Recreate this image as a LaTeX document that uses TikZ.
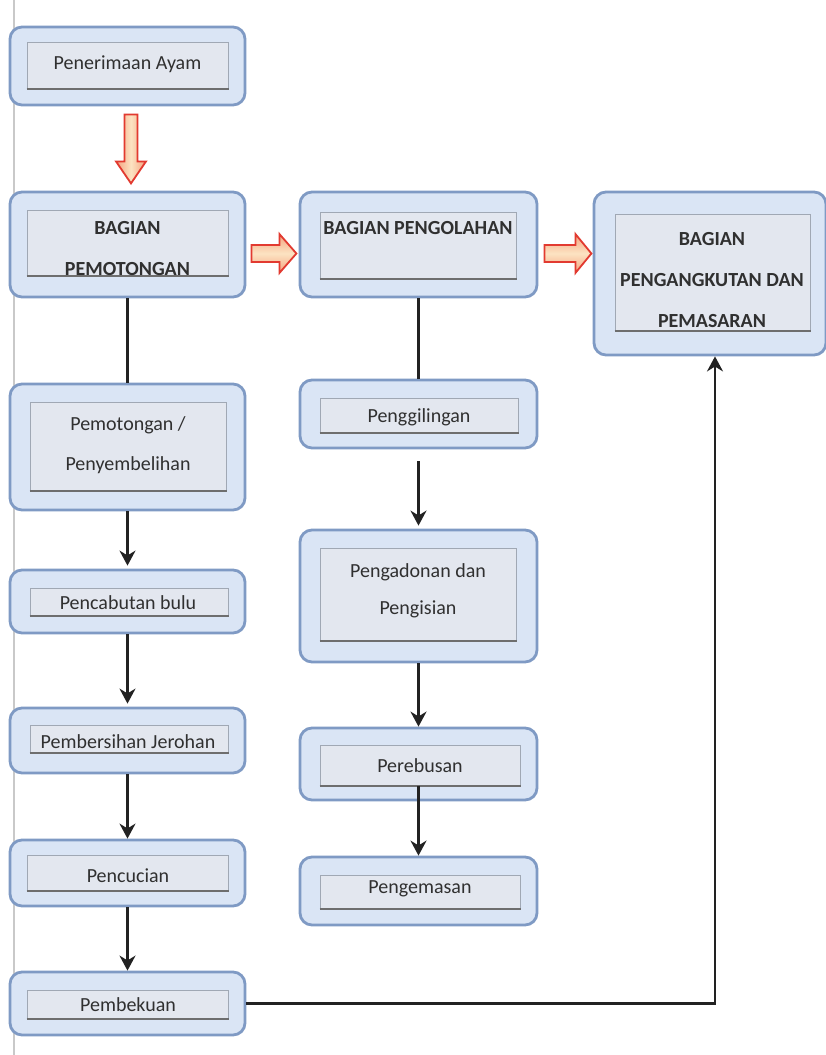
\documentclass[tikz,border=0pt]{standalone}
\usepackage{fontspec}
\setmainfont{Carlito}
\usetikzlibrary{arrows.meta,calc}
\definecolor{ofill}{HTML}{DAE5F5}
\definecolor{obord}{HTML}{7F9AC4}
\definecolor{ifill}{HTML}{E3E7EF}
\definecolor{ibord}{HTML}{A0A8B4}
\definecolor{ibot}{HTML}{6E6E6E}
\definecolor{tcol}{HTML}{303030}
\definecolor{acol}{HTML}{222222}
\definecolor{redc}{HTML}{E23A30}
\definecolor{redl}{HTML}{FCE3C2}
\definecolor{redm}{HTML}{F4A27E}
\definecolor{lline}{HTML}{C9C9C9}
\begin{document}
\begin{tikzpicture}[x=1pt,y=-1pt,
  outer/.style={draw=obord, line width=2.8pt, rounded corners=12pt, fill=ofill, inner sep=0pt},
  inner/.style={draw=ibord, line width=1pt, fill=ifill, inner sep=0pt,
    append after command={(\tikzlastnode.south west) edge[draw=ibot, line width=2pt] (\tikzlastnode.south east)}},
  lbl/.style={text=tcol, font=\fontsize{20}{40}\selectfont, align=center, inner sep=0pt},
  blbl/.style={text=tcol, font=\bfseries\fontsize{20}{41}\selectfont, align=center, inner sep=0pt},
  flow/.style={draw=acol, line width=2.8pt, -{Stealth[length=15pt,width=16pt]}},
  link/.style={draw=acol, line width=2.8pt},
  vblock/.style={draw=redc, line width=1.8pt, line join=miter, left color=redm, right color=redm, middle color=redl},
  hblock/.style={draw=redc, line width=1.8pt, line join=miter, top color=redm, bottom color=redm, middle color=redl}
]
\useasboundingbox (0,0) rectangle (826,1055);
\fill[white] (0,0) rectangle (826,1055);
\coordinate (ltop) at (14,0);
\coordinate (lbot) at (14,1055);
\draw[lline, line width=1.5pt] (ltop) -- (lbot);

% left column
\node[outer, minimum width=235pt, minimum height=78pt] (rec) at (127.5,66) {};
\node[inner, minimum width=201pt, minimum height=46pt] (rec-i) at (127.5,65) {};
\node[lbl] (rec-t) at (127.5,64) {Penerimaan Ayam};

\node[outer, minimum width=235pt, minimum height=105pt] (pot) at (127.5,244.5) {};
\node[inner, minimum width=201pt, minimum height=65pt] (pot-i) at (127.5,242.5) {};
\node[blbl] (pot-t) at (127.5,249) {BAGIAN\\PEMOTONGAN};

\node[outer, minimum width=235pt, minimum height=126pt] (sem) at (127.5,447) {};
\node[inner, minimum width=196pt, minimum height=88pt] (sem-i) at (128,446) {};
\node[lbl] (sem-t) at (128,445) {Pemotongan /\\Penyembelihan};

\node[outer, minimum width=235pt, minimum height=63pt] (cab) at (127.5,601.5) {};
\node[inner, minimum width=198pt, minimum height=27pt] (cab-i) at (129,601.5) {};
\node[lbl] (cab-t) at (128,603) {Pencabutan bulu};

\node[outer, minimum width=235pt, minimum height=65pt] (ber) at (127.5,740.5) {};
\node[inner, minimum width=198pt, minimum height=27pt] (ber-i) at (129,738.5) {};
\node[lbl] (ber-t) at (128,742) {Pembersihan Jerohan};

\node[outer, minimum width=235pt, minimum height=66pt] (cuc) at (127.5,873) {};
\node[inner, minimum width=201pt, minimum height=35pt] (cuc-i) at (127.5,872.5) {};
\node[lbl] (cuc-t) at (128,876) {Pencucian};

\node[outer, minimum width=235pt, minimum height=63pt] (bek) at (127.5,1003.5) {};
\node[inner, minimum width=201pt, minimum height=28pt] (bek-i) at (127.5,1004) {};
\node[lbl] (bek-t) at (128,1005) {Pembekuan};

% middle column
\node[outer, minimum width=237pt, minimum height=105pt] (olah) at (418.5,244.5) {};
\node[inner, minimum width=196pt, minimum height=66pt] (olah-i) at (418,245) {};
\node[blbl] (olah-t) at (418,228) {BAGIAN PENGOLAHAN};

\node[outer, minimum width=237pt, minimum height=68pt] (gil) at (418.5,414) {};
\node[inner, minimum width=198pt, minimum height=34pt] (gil-i) at (419,415) {};
\node[lbl] (gil-t) at (419,417) {Penggilingan};

\node[outer, minimum width=237pt, minimum height=132pt] (adon) at (418.5,596) {};
\node[inner, minimum width=196pt, minimum height=92pt] (adon-i) at (418,594) {};
\node[lbl, font=\fontsize{20}{37}\selectfont] (adon-t) at (418,591) {Pengadonan dan\\Pengisian};

\node[outer, minimum width=237pt, minimum height=72pt] (rebus) at (418.5,764) {};
\node[inner, minimum width=200pt, minimum height=40pt] (rebus-i) at (420,765) {};
\node[lbl] (rebus-t) at (420,766) {Perebusan};

\node[outer, minimum width=237pt, minimum height=68pt] (kemas) at (418.5,891) {};
\node[inner, minimum width=200pt, minimum height=33pt] (kemas-i) at (420,891.5) {};
\node[lbl] (kemas-t) at (420,889) {Pengemasan};

% right column
\node[outer, minimum width=232pt, minimum height=163pt] (pas) at (710,273.5) {};
\node[inner, minimum width=195pt, minimum height=116pt] (pas-i) at (712.5,272) {};
\node[blbl] (pas-t) at (712,280) {BAGIAN\\PENGANGKUTAN DAN\\PEMASARAN};

% red block arrows
\coordinate (dA) at ($(rec.south)+(3.5,8)$);
\path[vblock] ($(dA)+(-6.5,0)$) -- ++(13,0) -- ++(0,47) -- ++(8.5,0) -- ++(-15,22) -- ++(-15,-22) -- ++(8.5,0) -- cycle;
\coordinate (rA) at ($(pot.east)+(5,9)$);
\path[hblock] ($(rA)+(0,-8.5)$) -- ++(28,0) -- ++(0,-11) -- ++(17,19.5) -- ++(-17,19.5) -- ++(0,-11) -- ++(-28,0) -- cycle;
\coordinate (rB) at ($(olah.east)+(6,9)$);
\path[hblock] ($(rB)+(0,-8.5)$) -- ++(31,0) -- ++(0,-11) -- ++(16,19.5) -- ++(-16,19.5) -- ++(0,-11) -- ++(-31,0) -- cycle;

% black connectors
\draw[link] (pot.south) -- (sem.north);
\draw[flow, shorten >=3pt] (sem.south) -- (cab.north);
\draw[flow, shorten >=3pt] (cab.south) -- (ber.north);
\draw[flow] (ber.south) -- (cuc.north);
\draw[flow] (cuc.south) -- (bek.north);
\coordinate (pasin) at ($(pas.south)+(5,0)$);
\draw[flow] (bek.east) -| (pasin);
\draw[link] (olah.south) -- (gil.north);
\draw[flow, shorten <=12pt, shorten >=3pt] (gil.south) -- (adon.north);
\draw[flow] (adon.south) -- (rebus.north);
\coordinate (rebout) at (kemas.north |- rebus-i.south);
\draw[flow] (rebout) -- (kemas.north);
\end{tikzpicture}
\end{document}
